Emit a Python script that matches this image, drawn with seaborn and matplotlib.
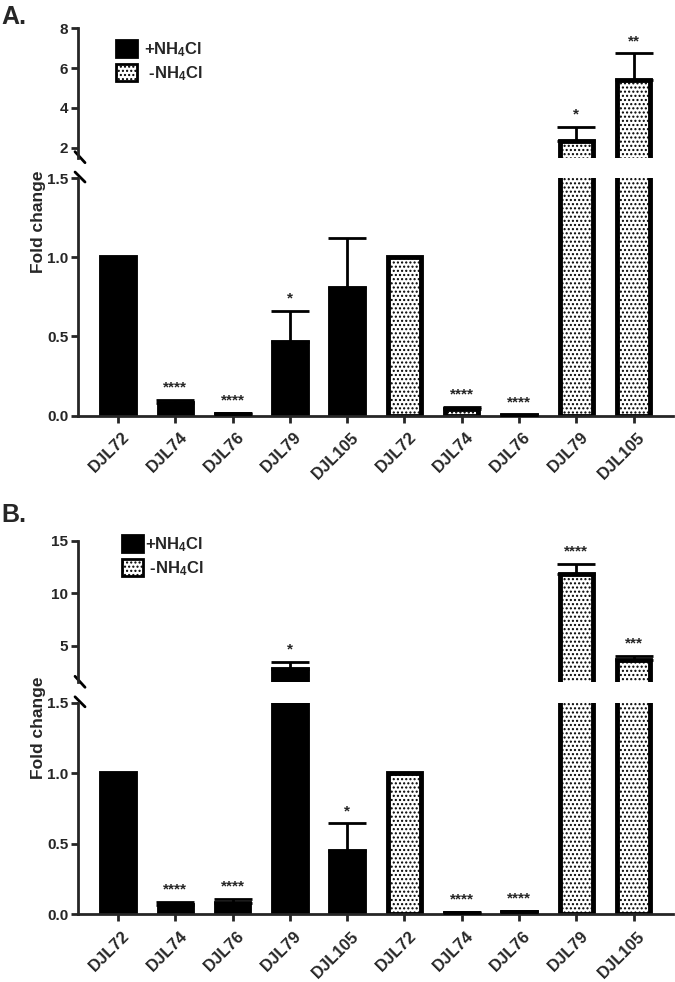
import numpy as np
import pandas as pd
import seaborn as sns
import matplotlib.pyplot as plt
from matplotlib.patches import Patch
from matplotlib.transforms import ScaledTranslation

strains = ['DJL72', 'DJL74', 'DJL76', 'DJL79', 'DJL105']
conditions = ['+NH4Cl', '-NH4Cl']
legend_labels = ['+NH$_4$Cl', ' -NH$_4$Cl']

# Panel A
a_plus = [1.0, 0.082, 0.012, 0.463, 0.808]
a_plus_err = [0.0, 0.017, 0.004, 0.198, 0.316]
a_plus_sig = ['', '****', '****', '*', '']
a_minus = [1.0, 0.04, 0.005, 2.32, 5.42]
a_minus_err = [0.0, 0.015, 0.002, 0.71, 1.32]
a_minus_sig = ['', '****', '****', '*', '**']

# Panel B
b_plus = [1.0, 0.066, 0.082, 2.81, 0.447]
b_plus_err = [0.0, 0.021, 0.027, 0.67, 0.198]
b_plus_sig = ['', '****', '****', '*', '*']
b_minus = [1.0, 0.01, 0.015, 11.8, 3.6]
b_minus_err = [0.0, 0.005, 0.007, 1.0, 0.45]
b_minus_sig = ['', '****', '****', '****', '***']

sns.set_style('ticks')
plt.rcParams['font.family'] = ['Liberation Sans', 'DejaVu Sans']
plt.rcParams['font.weight'] = 'bold'
plt.rcParams['mathtext.fontset'] = 'custom'
plt.rcParams['mathtext.rm'] = 'Liberation Sans:bold'
plt.rcParams['mathtext.bf'] = 'Liberation Sans:bold'
plt.rcParams['mathtext.default'] = 'bf'
plt.rcParams['hatch.linewidth'] = 1.0

palette = {'+NH4Cl': 'black', '-NH4Cl': 'white'}


def panel_frame(plus, plus_err, plus_sig, minus, minus_err, minus_sig):
    return pd.DataFrame({
        'slot': [f'{s} {c}' for c in conditions for s in strains],
        'condition': [c for c in conditions for _ in strains],
        'value': plus + minus,
        'err': plus_err + minus_err,
        'sig': plus_sig + minus_sig,
    })


def break_mark(fig, ax, y_frac, up, down):
    bb = ax.get_position()
    w = bb.width * fig.get_figwidth() * fig.dpi
    h = bb.height * fig.get_figheight() * fig.dpi
    ax.plot([-3 / w, 7 / w], [y_frac + up / h, y_frac - down / h],
            transform=ax.transAxes, color='black', lw=2, clip_on=False)


def draw_panel(fig, ax_top, ax_bot, df, top_lim, top_ticks):
    order = list(df['slot'])
    pos = np.arange(len(df))
    has_err = (df['err'] > 0).to_numpy()
    for ax in (ax_top, ax_bot):
        sns.barplot(data=df, x='slot', y='value', hue='condition', order=order,
                    hue_order=conditions, palette=palette, dodge=False, width=0.585,
                    edgecolor='black', linewidth=3.5, saturation=1, errorbar=None,
                    legend=False, ax=ax)
        for p in ax.patches:
            if p.get_facecolor()[0] > 0.5:
                p.set_hatch('....')
        ax.errorbar(pos[has_err], df['value'][has_err],
                    yerr=[np.zeros(has_err.sum()), df['err'][has_err]],
                    fmt='none', ecolor='black', elinewidth=2, capsize=14, capthick=2,
                    zorder=5)
        ax.set_xlim(-0.7, 9.69)
        ax.set_xlabel('')
        ax.set_ylabel('')
        for side in ['top', 'right']:
            ax.spines[side].set_visible(False)
        ax.spines['left'].set_linewidth(2)
        ax.spines['bottom'].set_linewidth(2)
        ax.tick_params(axis='both', width=2, length=5, labelsize=11, pad=2)

    ax_top.set_ylim(*top_lim)
    ax_top.set_yticks(top_ticks)
    ax_top.set_yticklabels([str(t) for t in top_ticks])
    ax_top.spines['bottom'].set_visible(False)
    ax_top.tick_params(axis='x', bottom=False, labelbottom=False)

    ax_bot.set_ylim(0, 1.5)
    ax_bot.set_yticks([0, 0.5, 1.0, 1.5])
    ax_bot.set_yticklabels(['0.0', '0.5', '1.0', '1.5'])
    ax_bot.set_xticks(pos)
    ax_bot.set_xticklabels(strains * 2, rotation=45, ha='right', va='top',
                           rotation_mode='anchor', fontsize=12, fontweight='bold')
    ax_bot.tick_params(axis='x', length=5, pad=5)
    shift = ScaledTranslation(4 / 100, 0, fig.dpi_scale_trans)
    for lab in ax_bot.get_xticklabels():
        lab.set_transform(lab.get_transform() + shift)

    for i, row in df.iterrows():
        if row['sig']:
            top = row['value'] + row['err']
            ax = ax_top if top > 1.5 else ax_bot
            ax.annotate(row['sig'], (i, top), xytext=(0, 6), textcoords='offset points',
                        ha='center', va='baseline', fontsize=11, fontweight='bold')

    break_mark(fig, ax_top, 0, 6, 5)
    break_mark(fig, ax_bot, 1, 6, 4)


fig = plt.figure(figsize=(6.75, 9.82), dpi=100)
ax_a_top = fig.add_axes([0.1156, 0.8394, 0.8815, 0.1318])
ax_a_bot = fig.add_axes([0.1156, 0.5767, 0.8815, 0.2420])
ax_b_top = fig.add_axes([0.1156, 0.3052, 0.8815, 0.1439])
ax_b_bot = fig.add_axes([0.1156, 0.0689, 0.8815, 0.2154])

df_a = panel_frame(a_plus, a_plus_err, a_plus_sig, a_minus, a_minus_err, a_minus_sig)
df_b = panel_frame(b_plus, b_plus_err, b_plus_sig, b_minus, b_minus_err, b_minus_sig)

draw_panel(fig, ax_a_top, ax_a_bot, df_a, (1.5, 8), [2, 4, 6, 8])
draw_panel(fig, ax_b_top, ax_b_bot, df_b, (1.5, 15), [5, 10, 15])

handles = [Patch(facecolor='black', edgecolor='black', linewidth=2),
           Patch(facecolor='white', edgecolor='black', linewidth=2, hatch='....')]
fig.legend(handles, legend_labels, loc='upper left', bbox_to_anchor=(116 / 675, 1 - 40 / 982),
           frameon=False, borderpad=0, borderaxespad=0, handlelength=1.25, handleheight=1.2,
           handletextpad=0.4, labelspacing=0.3, prop={'weight': 'bold', 'size': 12})
fig.legend(handles, legend_labels, loc='upper left', bbox_to_anchor=(122 / 675, 1 - 535 / 982),
           frameon=False, borderpad=0, borderaxespad=0, handlelength=1.25, handleheight=1.2,
           handletextpad=0.12, labelspacing=0.3, prop={'weight': 'bold', 'size': 12})

fig.text(0.057, 0.7744, 'Fold change', rotation=90, ha='center', va='center',
         fontsize=12.5, fontweight='bold')
fig.text(0.057, 0.2592, 'Fold change', rotation=90, ha='center', va='center',
         fontsize=12.5, fontweight='bold')
fig.text(0.002, 0.995, 'A.', ha='left', va='top', fontsize=18, fontweight='bold')
fig.text(0.002, 1 - 503 / 982, 'B.', ha='left', va='top', fontsize=18, fontweight='bold')

fig.savefig('out.png', dpi=100)
